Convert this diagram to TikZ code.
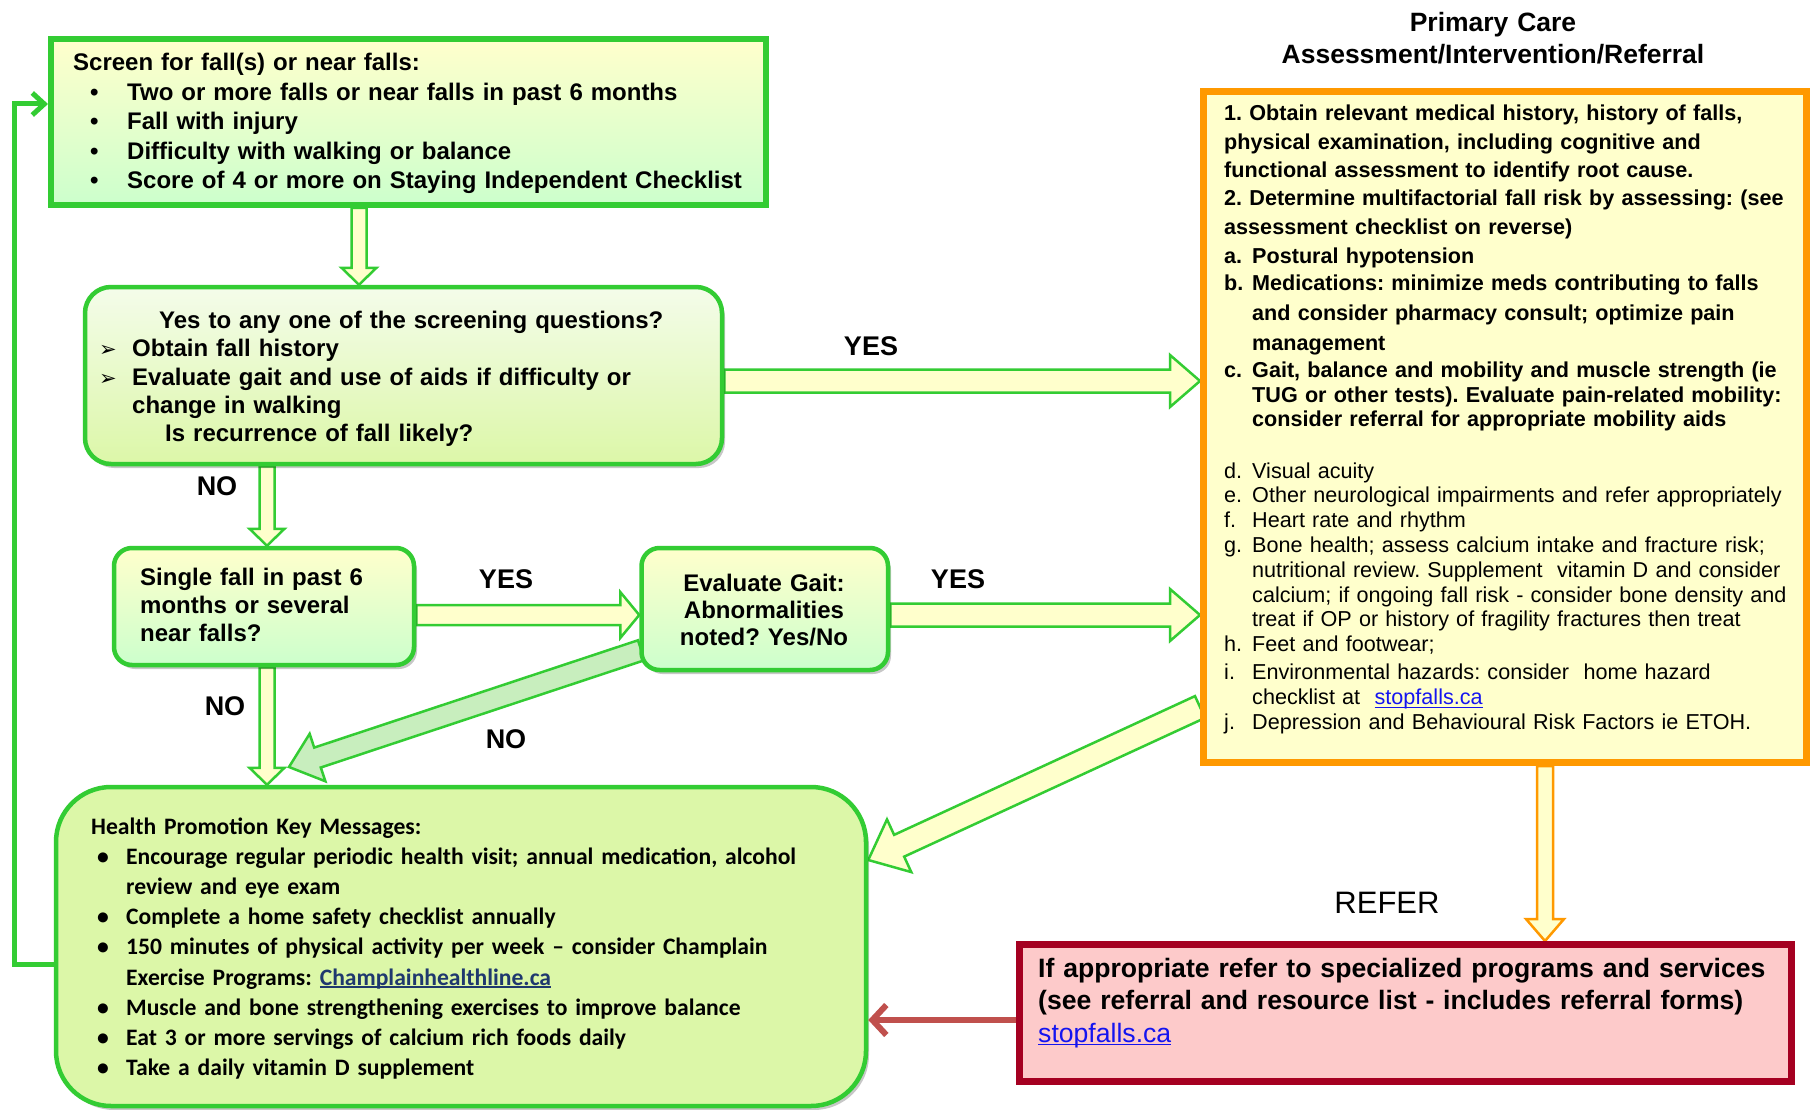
\documentclass[tikz,border=0pt]{standalone}
\usepackage{fontspec}
\setmainfont{Liberation Sans}
\newfontfamily\calib{Carlito}
\newfontfamily\djv{DejaVu Sans}
\usetikzlibrary{calc,arrows.meta,shadows}
\definecolor{grn}{RGB}{51,204,51}
\definecolor{org}{RGB}{255,153,0}
\definecolor{lyel}{RGB}{255,255,204}
\definecolor{lgrn}{RGB}{204,255,204}
\definecolor{lime}{RGB}{220,247,168}
\definecolor{pale}{RGB}{244,252,234}
\definecolor{dred}{RGB}{165,0,33}
\definecolor{pinkf}{RGB}{253,202,202}
\definecolor{rarr}{RGB}{192,80,77}
\definecolor{nofill}{RGB}{200,238,190}
\definecolor{lnk}{RGB}{20,20,240}
\definecolor{dlnk}{RGB}{31,56,110}
\pgfdeclarelayer{back}
\pgfdeclarelayer{bg}
\pgfsetlayers{back,bg,main}
\frenchspacing
\newcommand{\blockarrow}[6]{%
  \draw[#1] let \p1=(#2), \p2=(#3),
    \n1={atan2(\y2-\y1,\x2-\x1)},
    \n2={veclen(\x2-\x1,\y2-\y1)-#6},
    \n3={\n1+90}, \n4={\n1-90} in
    ($(\p1)+(\n3:#4)$) -- ($(\p1)+(\n1:\n2)+(\n3:#4)$)
    -- ($(\p1)+(\n1:\n2)+(\n3:#5)$) -- (\p2)
    -- ($(\p1)+(\n1:\n2)+(\n4:#5)$) -- ($(\p1)+(\n1:\n2)+(\n4:#4)$)
    -- ($(\p1)+(\n4:#4)$) -- cycle;}
\newcommand{\bul}{\makebox[54pt][l]{\hspace{17pt}•}}
\newcommand{\hbul}{\makebox[35pt][l]{\hspace{6pt}•}}
\newcommand{\arw}{\makebox[33pt][l]{{\djv\fontsize{21}{21}\selectfont ➢}}}
\newcommand{\lab}[1]{\makebox[28pt][l]{#1}}
\newcommand{\ind}{\hspace*{28pt}}
\newcommand{\uln}[2]{\leavevmode\setbox0\hbox{#2}\rlap{\rule[-3pt]{\wd0}{#1}}\box0}
\begin{document}
\begin{tikzpicture}[x=1pt,y=1pt,
  gbox/.style={draw=grn, line width=4.5pt, inner sep=0pt},
  shd/.style={drop shadow={shadow xshift=3pt, shadow yshift=-4pt, fill=black, opacity=0.22}},
  tx/.style={anchor=base west, inner sep=0pt, align=left, text width=#1},
  lbl/.style={inner sep=0pt, font=\fontsize{27}{27}\bfseries\selectfont},
  garr/.style={draw=grn, line width=2.5pt, fill=lyel, line join=miter},
  narr/.style={draw=grn, line width=2.5pt, fill=nofill, line join=miter},
  oarr/.style={draw=org, line width=2.5pt, fill=lyel, line join=miter}]
\begin{pgfonlayer}{back}
\fill[white] (0,0) rectangle (1810,-1110);
\end{pgfonlayer}
\useasboundingbox (0,0) rectangle (1810,-1110);

% boxes
\node[gbox, line width=6pt, top color=lyel, bottom color=lgrn,
  minimum width=715pt, minimum height=166pt] (box1) at (408.5,-122) {};
\node[gbox, shd, rounded corners=26pt, top color=pale, bottom color=lime,
  minimum width=637pt, minimum height=177pt] (box2) at (403.5,-375.5) {};
\node[gbox, shd, rounded corners=18pt, top color=lyel, bottom color=lgrn,
  minimum width=300pt, minimum height=117pt] (box3) at (264,-606.5) {};
\node[gbox, shd, rounded corners=18pt, top color=lyel, bottom color=lgrn,
  minimum width=246.5pt, minimum height=122pt] (box4) at (764.75,-609) {};
\node[gbox, shd, rounded corners=55pt, top color=lime, middle color=lyel, bottom color=lime,
  minimum width=810pt, minimum height=319pt] (box5) at (461,-946.5) {};
\node[draw=org, line width=7pt, fill=lyel, inner sep=0pt,
  minimum width=603pt, minimum height=671pt] (orange) at (1505,-427) {};
\node[draw=dred, line width=7pt, fill=pinkf, inner sep=0pt,
  minimum width=772pt, minimum height=137pt] (red) at (1405.5,-1013) {};

% title
\node[anchor=base, inner sep=0pt, align=center, text width=600pt,
  font=\fontsize{26.5}{32}\bfseries\selectfont] (title) at (1493,-31.5)
  {Primary Care\\Assessment/Intervention/Referral};

% box texts
\node[tx=700pt, font=\fontsize{24}{29.4}\bfseries\selectfont] (t1) at (73,-71)
  {Screen for fall(s) or near falls:\\
   \bul Two or more falls or near falls in past 6 months\\
   \bul Fall with injury\\
   \bul Difficulty with walking or balance\\
   \bul Score of 4 or more on Staying Independent Checklist};
\node[tx=620pt, font=\fontsize{24}{28.3}\bfseries\selectfont] (t2) at (99,-328.6)
  {\hspace*{60pt}Yes to any one of the screening questions?\\
   \arw Obtain fall history\\
   \arw Evaluate gait and use of aids if difficulty or\\
   \hspace*{33pt}change in walking\\
   \hspace*{66pt}Is recurrence of fall likely?};
\node[tx=270pt, font=\fontsize{24}{28}\bfseries\selectfont] (t3) at (140,-585.6)
  {Single fall in past 6\\months or several\\near falls?};
\node[anchor=base, inner sep=0pt, align=center, text width=240pt,
  font=\fontsize{24}{27}\bfseries\selectfont] (t4) at (764,-591.6)
  {Evaluate Gait:\\Abnormalities\\noted? Yes/No};

% orange texts
\node[tx=580pt, font=\fontsize{21.6}{28.3}\bfseries\selectfont] (t5) at (1224,-121)
  {1. Obtain relevant medical history, history of falls,\\
   physical examination, including cognitive and\\
   functional assessment to identify root cause.\\
   2. Determine multifactorial fall risk by assessing: (see\\
   assessment checklist on reverse)};
\node[tx=580pt, font=\fontsize{21.6}{25}\bfseries\selectfont] (t6) at (1224,-263)
  {\lab{a.}Postural hypotension\\[3pt]
   \lab{b.}Medications: minimize meds contributing to falls\\[5pt]
   \ind and consider pharmacy consult; optimize pain\\[4pt]
   \ind management\\[2pt]
   \lab{c.}Gait, balance and mobility and muscle strength (ie\\
   \ind TUG or other tests). Evaluate pain-related mobility:\\
   \ind consider referral for appropriate mobility aids};
\node[tx=580pt, font=\fontsize{21.6}{24.8}\selectfont] (t7) at (1224,-478)
  {\lab{d.}Visual acuity\\
   \lab{e.}Other neurological impairments and refer appropriately\\
   \lab{f.}Heart rate and rhythm\\
   \lab{g.}Bone health; assess calcium intake and fracture risk;\\
   \ind nutritional review. Supplement \ vitamin D and consider\\
   \ind calcium; if ongoing fall risk - consider bone density and\\
   \ind treat if OP or history of fragility fractures then treat\\
   \lab{h.}Feet and footwear;\\[3.5pt]
   \lab{i.}Environmental hazards: consider \ home hazard\\
   \ind checklist at \ {\color{lnk}\uln{1.2pt}{stopfalls.ca}}\\
   \lab{j.}Depression and Behavioural Risk Factors ie ETOH.};

% health promotion text
\node[tx=770pt, font=\calib\fontsize{23.6}{30.2}\bfseries\selectfont] (t8) at (91,-834)
  {Health Promotion Key Messages:\\
   \hbul Encourage regular periodic health visit; annual medication, alcohol\\
   \hspace*{35pt}review and eye exam\\
   \hbul Complete a home safety checklist annually\\
   \hbul 150 minutes of physical activity per week – consider Champlain\\
   \hspace*{35pt}Exercise Programs: {\color{dlnk}\uln{2pt}{Champlainhealthline.ca}}\\
   \hbul Muscle and bone strengthening exercises to improve balance\\
   \hbul Eat 3 or more servings of calcium rich foods daily\\
   \hbul Take a daily vitamin D supplement};

% red text
\node[tx=740pt, font=\fontsize{26.6}{32.5}\bfseries\selectfont] (t9) at (1038,-977)
  {If appropriate refer to specialized programs and services\\
   (see referral and resource list - includes referral forms)\\
   {\mdseries\color{lnk}\uln{1.4pt}{stopfalls.ca}}};

% labels
\node[lbl] (yes1) at (871,-346) {YES};
\node[lbl] (no1) at (217,-486) {NO};
\node[lbl] (yes2) at (506,-579) {YES};
\node[lbl] (yes3) at (958,-579) {YES};
\node[lbl] (no2) at (225,-706) {NO};
\node[lbl] (no3) at (506,-739) {NO};
\node[inner sep=0pt, font=\fontsize{31}{31}\selectfont] (refer) at (1387,-903) {REFER};

% helper coordinates
\coordinate (vx1) at (359,0);
\coordinate (vx2) at (267,0);
\coordinate (vx9) at (1545,0);
\coordinate (hy1) at (0,-381);
\coordinate (hy2) at (0,-615);
\coordinate (hy3) at (0,-1020);
\coordinate (fbA) at (14,-964);
\coordinate (fbB) at (14,-104);
\coordinate (a7tip) at (289,-767);

\begin{pgfonlayer}{bg}
\blockarrow{garr}{box1.south -| vx1}{box2.north -| vx1}{7.5}{17.5}{17}
\blockarrow{garr}{box2.south -| vx2}{box3.north -| vx2}{7.5}{17.5}{17}
\blockarrow{garr}{box3.south -| vx2}{box5.north -| vx2}{7.5}{17.5}{17}
\blockarrow{garr}{box2.east |- hy1}{orange.west |- hy1}{11.5}{26}{30}
\blockarrow{garr}{box3.east |- hy2}{box4.west |- hy2}{10}{23}{19}
\blockarrow{garr}{box4.east |- hy2}{orange.west |- hy2}{11.5}{26}{30}
\blockarrow{narr}{$(box4.south west)+(2,22)$}{a7tip}{10.5}{25}{30}
\blockarrow{garr}{$(orange.south west)+(0,59)$}{$(box5.east)+(0,86.5)$}{12}{29}{34}
\blockarrow{oarr}{orange.south -| vx9}{red.north -| vx9}{8}{19}{22}
\end{pgfonlayer}

\draw[draw=grn, line width=5pt, -{Straight Barb[length=12pt,width=22pt]}]
  (box5.west |- fbA) -- (fbA) -- (fbB) -- (box1.west |- fbB);
\draw[draw=rarr, line width=6pt, -{Straight Barb[length=14pt,width=30pt]}]
  (red.west |- hy3) -- (box5.east |- hy3);
\end{tikzpicture}
\end{document}
